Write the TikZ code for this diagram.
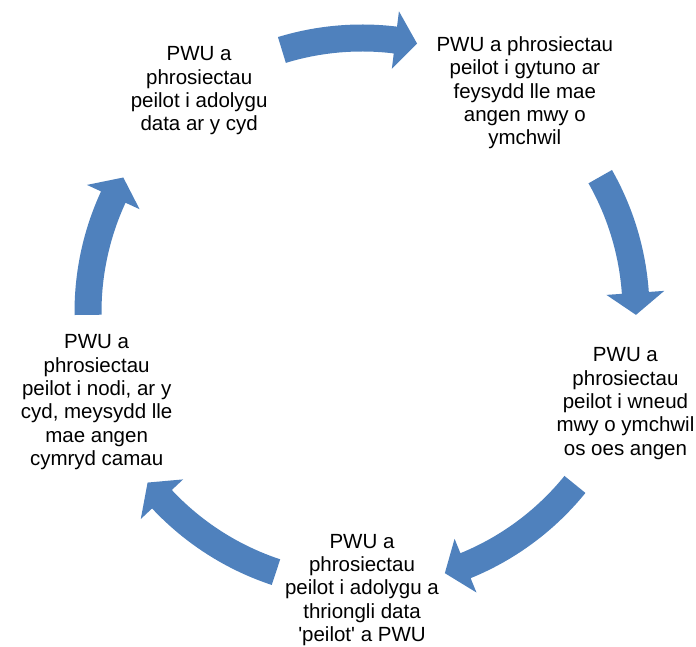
\documentclass[tikz,border=0pt]{standalone}
\usepackage{fontspec}
\setmainfont{Liberation Sans}
\usetikzlibrary{calc}
\definecolor{cycleblue}{RGB}{79,129,189}
\tikzset{cyclebox/.style={align=center,inner sep=0pt,font=\fontsize{20.5}{23.3}\selectfont}}

\begin{document}
\begin{tikzpicture}[x=1pt,y=1pt]
        \useasboundingbox (0,0) rectangle (696,646);
        \coordinate (c) at (362,334);
        % steps of the cycle
        \node[cyclebox] (review) at ($(c)+(126:277)+(0,-3)$) {PWU a\\phrosiectau\\peilot i adolygu\\data ar y cyd};
        \node[cyclebox] (agree) at ($(c)+(54:277)+(0,-5)$) {PWU a phrosiectau\\peilot i gytuno ar\\feysydd lle mae\\angen mwy o\\ymchwil};
        \node[cyclebox] (research) at ($(c)+(-18:277)+(0,-6)$) {PWU a\\phrosiectau\\peilot i wneud\\mwy o ymchwil\\os oes angen};
        \node[cyclebox] (triangulate) at ($(c)+(-90:279)+(0,1)$) {PWU a\\phrosiectau\\peilot i adolygu a\\thriongli data\\\textquotesingle peilot\textquotesingle{} a PWU};
        \node[cyclebox] (identify) at ($(c)+(-162:279)+(0,-4)$) {PWU a\\phrosiectau\\peilot i nodi, ar y\\cyd, meysydd lle\\mae angen\\cymryd camau};
        % curved arrows, tail angle / tip angle
        \foreach \a/\b in {107/78.4, 29.6/-0.6, -39/-72.4, -108.3/-141.5, 180.6/150.6} {
            \pgfmathsetmacro{\h}{\b+4.6}
            \fill[cycleblue] ($(c)+(\a:287.5)$) arc[start angle=\a, end angle=\h, radius=287.5]
                -- ($(c)+(\h:303)$) -- ($(c)+(\b:274)$) -- ($(c)+(\h:245)$)
                -- ($(c)+(\h:260.5)$) arc[start angle=\h, end angle=\a, radius=260.5] -- cycle;
        }
    \end{tikzpicture}
\end{document}
